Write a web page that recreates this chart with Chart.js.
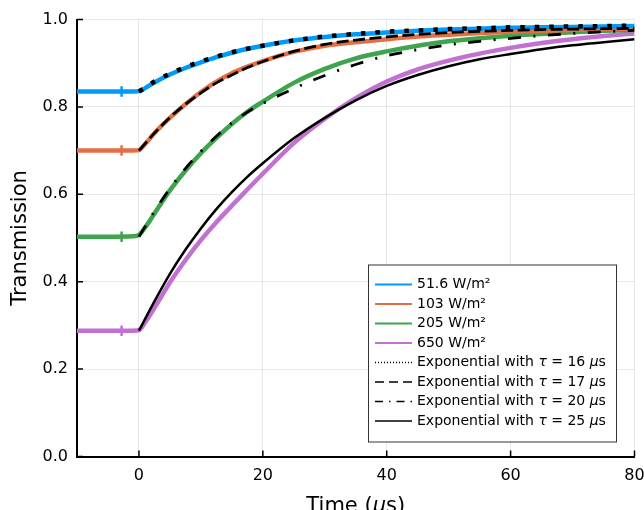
<!DOCTYPE html>
<html>
<head>
<meta charset="utf-8">
<script src="https://cdn.jsdelivr.net/npm/chart.js@4/dist/chart.umd.min.js"></script>
<style>
  html, body { margin: 0; padding: 0; background: #fff; }
  #wrap { width: 644px; height: 510px; }
</style>
</head>
<body>
<div id="wrap"><canvas id="chart" width="644" height="510"></canvas></div>
<script>
/*  Transmission vs time — measured data and exponential fits  */

// measured curves (time in µs)
const dataTime = [-10, -5, -1, 0, 1, 2.5, 5, 7.5, 10, 12.5, 15, 17.5, 20, 25, 30, 35, 40, 45, 50, 55, 60, 65, 70, 75, 80];
const trans51 = [0.835, 0.835, 0.835, 0.836, 0.843, 0.856, 0.874, 0.889, 0.902, 0.914, 0.924, 0.933, 0.940, 0.952, 0.960, 0.966, 0.970, 0.974, 0.977, 0.979, 0.981, 0.982, 0.983, 0.984, 0.985];
const trans103 = [0.700, 0.700, 0.700, 0.701, 0.715, 0.740, 0.775, 0.806, 0.834, 0.858, 0.877, 0.892, 0.905, 0.926, 0.940, 0.948, 0.955, 0.961, 0.965, 0.969, 0.972, 0.974, 0.976, 0.978, 0.979];
const trans205 = [0.503, 0.503, 0.504, 0.507, 0.524, 0.556, 0.609, 0.654, 0.694, 0.729, 0.761, 0.789, 0.812, 0.855, 0.887, 0.911, 0.927, 0.940, 0.950, 0.957, 0.963, 0.967, 0.971, 0.974, 0.976];
const trans650 = [0.288, 0.288, 0.288, 0.289, 0.307, 0.340, 0.398, 0.449, 0.495, 0.536, 0.574, 0.611, 0.647, 0.717, 0.773, 0.820, 0.858, 0.886, 0.906, 0.922, 0.935, 0.946, 0.955, 0.962, 0.968];

// small glitch in each trace just before the pulse
const spikeTime = [-2.8, -2.8];
const spike51 = [0.823, 0.847];
const spike103 = [0.688, 0.712];
const spike205 = [0.491, 0.515];
const spike650 = [0.276, 0.300];

// exponential fits
const fitTime = [0, 2.5, 5, 7.5, 10, 12.5, 15, 17.5, 20, 25, 30, 35, 40, 45, 50, 55, 60, 65, 70, 75, 80];
const fit16 = [0.835, 0.858, 0.876, 0.891, 0.904, 0.915, 0.925, 0.933, 0.940, 0.952, 0.961, 0.967, 0.972, 0.975, 0.978, 0.980, 0.982, 0.983, 0.984, 0.985, 0.986];
const fit17 = [0.700, 0.740, 0.776, 0.806, 0.832, 0.855, 0.873, 0.890, 0.904, 0.927, 0.943, 0.953, 0.960, 0.966, 0.970, 0.973, 0.975, 0.977, 0.978, 0.979, 0.980];
const fit20 = [0.503, 0.561, 0.613, 0.659, 0.698, 0.733, 0.763, 0.788, 0.808, 0.842, 0.872, 0.897, 0.917, 0.931, 0.942, 0.950, 0.957, 0.963, 0.968, 0.972, 0.975];
const fit25 = [0.288, 0.355, 0.418, 0.473, 0.522, 0.566, 0.605, 0.640, 0.671, 0.728, 0.775, 0.815, 0.848, 0.873, 0.893, 0.909, 0.921, 0.932, 0.941, 0.948, 0.955];

const powerLabels = ["51.6 W/m²", "103 W/m²", "205 W/m²", "650 W/m²"];
const fitTaus = [16, 17, 20, 25];
const xTicks = [0, 20, 40, 60, 80];
const yTicks = [0, 0.2, 0.4, 0.6, 0.8, 1.0];

const COLORS = ["#009AFA", "#E36F47", "#3EA44E", "#C271D2"];
const FIT_DASH = [[4.5, 10], [12, 4.5], [13, 12.5, 2, 12.5], []];
const FIT_WIDTH = [4.5, 2.8, 2.8, 2.5];
const LEGEND_DASH = [[1, 2], [9, 5], [8, 6, 1.5, 6], []];
const FONT = "'DejaVu Sans', sans-serif";

function pts(xs, ys) {
    return xs.map(function (x, i) { return { x: x, y: ys[i] }; });
}

var traces = [trans51, trans103, trans205, trans650];
var spikes = [spike51, spike103, spike205, spike650];
var fits = [fit16, fit17, fit20, fit25];
var datasets = [];

traces.forEach(function (d, i) {
    datasets.push({
        label: powerLabels[i], data: pts(dataTime, d),
        borderColor: COLORS[i], borderWidth: 4.5, pointRadius: 0,
        cubicInterpolationMode: "monotone", order: 1
    });
    datasets.push({
        label: "", data: pts(spikeTime, spikes[i]),
        borderColor: COLORS[i], borderWidth: 2.5, pointRadius: 0, order: 1
    });
});
fits.forEach(function (d, i) {
    datasets.push({
        label: "fit " + fitTaus[i], data: pts(fitTime, d),
        borderColor: "#000", borderWidth: FIT_WIDTH[i], borderDash: FIT_DASH[i],
        pointRadius: 0, cubicInterpolationMode: "monotone", order: 0
    });
});

// draw text pieces, some italic (for τ and µ)
function richText(ctx, parts, x, y, size, align) {
    var total = 0;
    parts.forEach(function (p) {
        ctx.font = (p[1] ? "italic " : "") + size + "px " + FONT;
        total += ctx.measureText(p[0]).width;
    });
    var cx = align === "center" ? x - total / 2 : x;
    ctx.textAlign = "left";
    parts.forEach(function (p) {
        ctx.font = (p[1] ? "italic " : "") + size + "px " + FONT;
        ctx.fillText(p[0], cx, y);
        cx += ctx.measureText(p[0]).width;
    });
}

/* ====== EXTRAS: inward ticks, x title, legend ====== */
const extras = {
    id: "extras",
    afterDraw: function (chart) {
        var ctx = chart.ctx, a = chart.chartArea;
        var xs = chart.scales.x, ys = chart.scales.y;
        ctx.save();

        ctx.strokeStyle = "#000";
        ctx.lineWidth = 1.5;
        ctx.beginPath();
        xs.ticks.forEach(function (t) {
            var px = xs.getPixelForValue(t.value);
            ctx.moveTo(px, a.bottom); ctx.lineTo(px, a.bottom - 6);
        });
        ys.ticks.forEach(function (t) {
            var py = ys.getPixelForValue(t.value);
            ctx.moveTo(a.left, py); ctx.lineTo(a.left + 6, py);
        });
        ctx.stroke();

        ctx.fillStyle = "#000";
        ctx.textBaseline = "alphabetic";
        richText(ctx, [["Time (", 0], ["μ", 1], ["s)", 0]], (a.left + a.right) / 2, 512, 21, "center");

        // legend box
        var bw = 248, bh = 177;
        var bx = a.right - 18.5 - bw, by = a.bottom - 15 - bh;
        ctx.fillStyle = "#fff";
        ctx.fillRect(bx, by, bw, bh);
        ctx.strokeStyle = "#333";
        ctx.lineWidth = 1;
        ctx.strokeRect(bx + 0.5, by + 0.5, bw, bh);

        ctx.textBaseline = "middle";
        for (var i = 0; i < 8; i++) {
            var ry = by + 20 + i * 19.5;
            ctx.beginPath();
            if (i < 4) {
                ctx.strokeStyle = COLORS[i]; ctx.lineWidth = 2; ctx.setLineDash([]);
            } else {
                ctx.strokeStyle = "#000"; ctx.lineWidth = 1.5; ctx.setLineDash(LEGEND_DASH[i - 4]);
            }
            ctx.moveTo(bx + 7, ry); ctx.lineTo(bx + 44, ry);
            ctx.stroke();
            ctx.setLineDash([]);
            ctx.fillStyle = "#000";
            if (i < 4) {
                richText(ctx, [[powerLabels[i], 0]], bx + 49, ry, 14, "left");
            } else {
                richText(ctx, [["Exponential with ", 0], ["τ", 1], [" = " + fitTaus[i - 4] + " ", 0], ["μ", 1], ["s", 0]], bx + 49, ry, 14, "left");
            }
        }
        ctx.restore();
    }
};

/* ====== CHART ====== */
new Chart(document.getElementById("chart").getContext("2d"), {
    type: "line",
    data: { datasets: datasets },
    options: {
        responsive: false,
        animation: false,
        layout: { padding: { top: 19.5, right: 9.5, bottom: 0, left: 0 } },
        plugins: { legend: { display: false }, tooltip: { enabled: false } },
        scales: {
            x: {
                type: "linear", min: -10, max: 80,
                afterBuildTicks: function (s) { s.ticks = xTicks.map(function (v) { return { value: v }; }); },
                afterFit: function (s) { s.height = 53.5; s.paddingLeft = 0; s.paddingRight = 0; },
                grid: { color: "rgba(0,0,0,0.09)", drawTicks: false },
                border: { color: "#000", width: 2 },
                ticks: { color: "#000", font: { family: FONT, size: 16 }, padding: 10, maxRotation: 0 }
            },
            y: {
                type: "linear", min: 0, max: 1,
                afterBuildTicks: function (s) { s.ticks = yTicks.map(function (v) { return { value: v }; }); },
                afterFit: function (s) { s.width = 77; s.paddingTop = 0; s.paddingBottom = 0; },
                grid: { color: "rgba(0,0,0,0.09)", drawTicks: false },
                border: { color: "#000", width: 2 },
                ticks: {
                    color: "#000", font: { family: FONT, size: 16 }, padding: 9,
                    callback: function (v) { return v.toFixed(1); }
                },
                title: {
                    display: true, text: "Transmission", color: "#000",
                    font: { family: FONT, size: 21 }, padding: { top: 8, bottom: 0 }
                }
            }
        }
    },
    plugins: [extras]
});
</script>
</body>
</html>
